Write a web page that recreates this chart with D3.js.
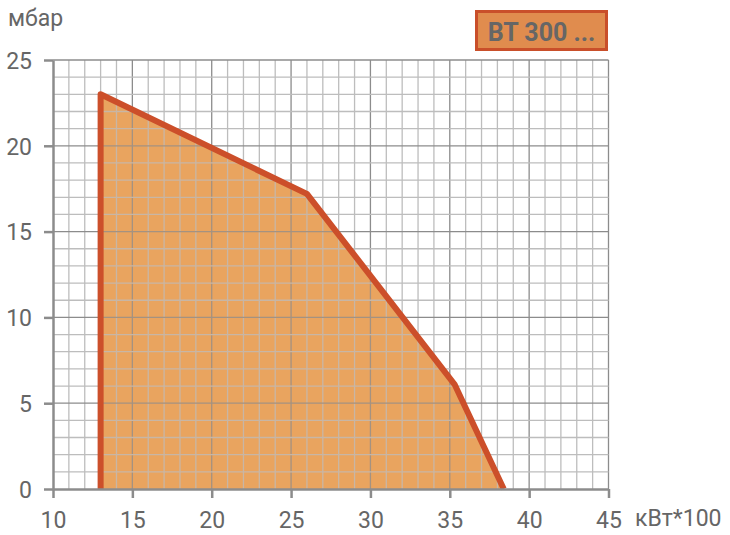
<!DOCTYPE html>
<html><head><meta charset="utf-8">
<script src="https://cdn.jsdelivr.net/npm/d3@7"></script>
<style>body{margin:0;background:#fff}svg{display:block}</style>
</head><body>
<svg id="c" width="730" height="535"></svg>
<script>
const powerKW100 = [13, 13, 26, 35.3, 38.4];
const pressureMbar = [0, 23, 17.2, 6.1, 0];
const xTicks = [10, 15, 20, 25, 30, 35, 40, 45];
const yTicks = [0, 5, 10, 15, 20, 25];
const yTitle = "мбар";
const xTitle = "кВт*100";
const modelLabel = "BT 300 ...";

const svg = d3.select("#c");
const x = d3.scaleLinear().domain([10, 45]).range([53, 608.5]);
const y = d3.scaleLinear().domain([0, 25]).range([489, 60]);
const font = "Roboto, 'DejaVu Sans', sans-serif";
const gray = "#666";
const pts = powerKW100.map((v, i) => [v, pressureMbar[i]]);
const lineGen = d3.line().x(d => x(d[0])).y(d => y(d[1]));

svg.append("clipPath").attr("id", "areaClip").append("path").attr("d", lineGen(pts) + "Z");

function drawGrid(parent) {
  parent.selectAll("line.vx").data(d3.range(11, 46)).join("line").attr("class", "vx")
    .attr("x1", d => x(d)).attr("x2", d => x(d)).attr("y1", y(0)).attr("y2", y(25))
    .attr("stroke", d => d % 5 === 0 ? "#8c8c8c" : "#bdbdbd").attr("stroke-width", 1.3);
  parent.selectAll("line.hy").data(d3.range(1, 26)).join("line").attr("class", "hy")
    .attr("y1", d => y(d)).attr("y2", d => y(d)).attr("x1", x(10)).attr("x2", x(45))
    .attr("stroke", d => d % 5 === 0 ? "#8c8c8c" : "#bdbdbd").attr("stroke-width", 1.3);
}
drawGrid(svg.append("g"));

// area
svg.append("path").attr("d", lineGen(pts) + "Z").attr("fill", "#e9a45f");
drawGrid(svg.append("g").attr("clip-path", "url(#areaClip)").attr("opacity", 0.75));
svg.append("path").attr("d", lineGen(pts))
  .attr("fill", "none").attr("stroke", "#cc4f2a").attr("stroke-width", 6)
  .attr("stroke-linejoin", "round");

// axes
const xa = svg.append("g").attr("transform", `translate(0,${y(0)})`)
  .call(d3.axisBottom(x).tickValues(xTicks).tickSize(9).tickSizeOuter(0).tickPadding(14));
const ya = svg.append("g").attr("transform", `translate(${x(10)},0)`)
  .call(d3.axisLeft(y).tickValues(yTicks).tickSize(9).tickSizeOuter(0).tickPadding(14));
[xa, ya].forEach(a => {
  a.select(".domain").attr("stroke", "#8c8c8c").attr("stroke-width", 2.5);
  a.selectAll(".tick line").attr("stroke", "#8c8c8c").attr("stroke-width", 2.5);
  a.selectAll("text").attr("fill", gray).style("font-family", font).style("font-size", "23px");
});
ya.selectAll("text").attr("x", -21).attr("dy", "0.36em");
xa.selectAll("text").attr("dy", "0.71em");

svg.append("text").attr("x", 8).attr("y", 26).text(yTitle)
  .attr("fill", gray).style("font-family", font).style("font-size", "23px");
svg.append("text").attr("x", 635).attr("y", 526).text(xTitle)
  .attr("fill", gray).style("font-family", font).style("font-size", "23px");

// model label box
svg.append("rect").attr("x", 476.5).attr("y", 11.5).attr("width", 130).attr("height", 38)
  .attr("fill", "#e08c4e").attr("stroke", "#c94f2a").attr("stroke-width", 3);
svg.append("text").attr("x", 541.5).attr("y", 41).attr("text-anchor", "middle").text(modelLabel)
  .attr("fill", gray).style("font-family", font).style("font-weight", "bold").style("font-size", "25px");
</script>
</body></html>
